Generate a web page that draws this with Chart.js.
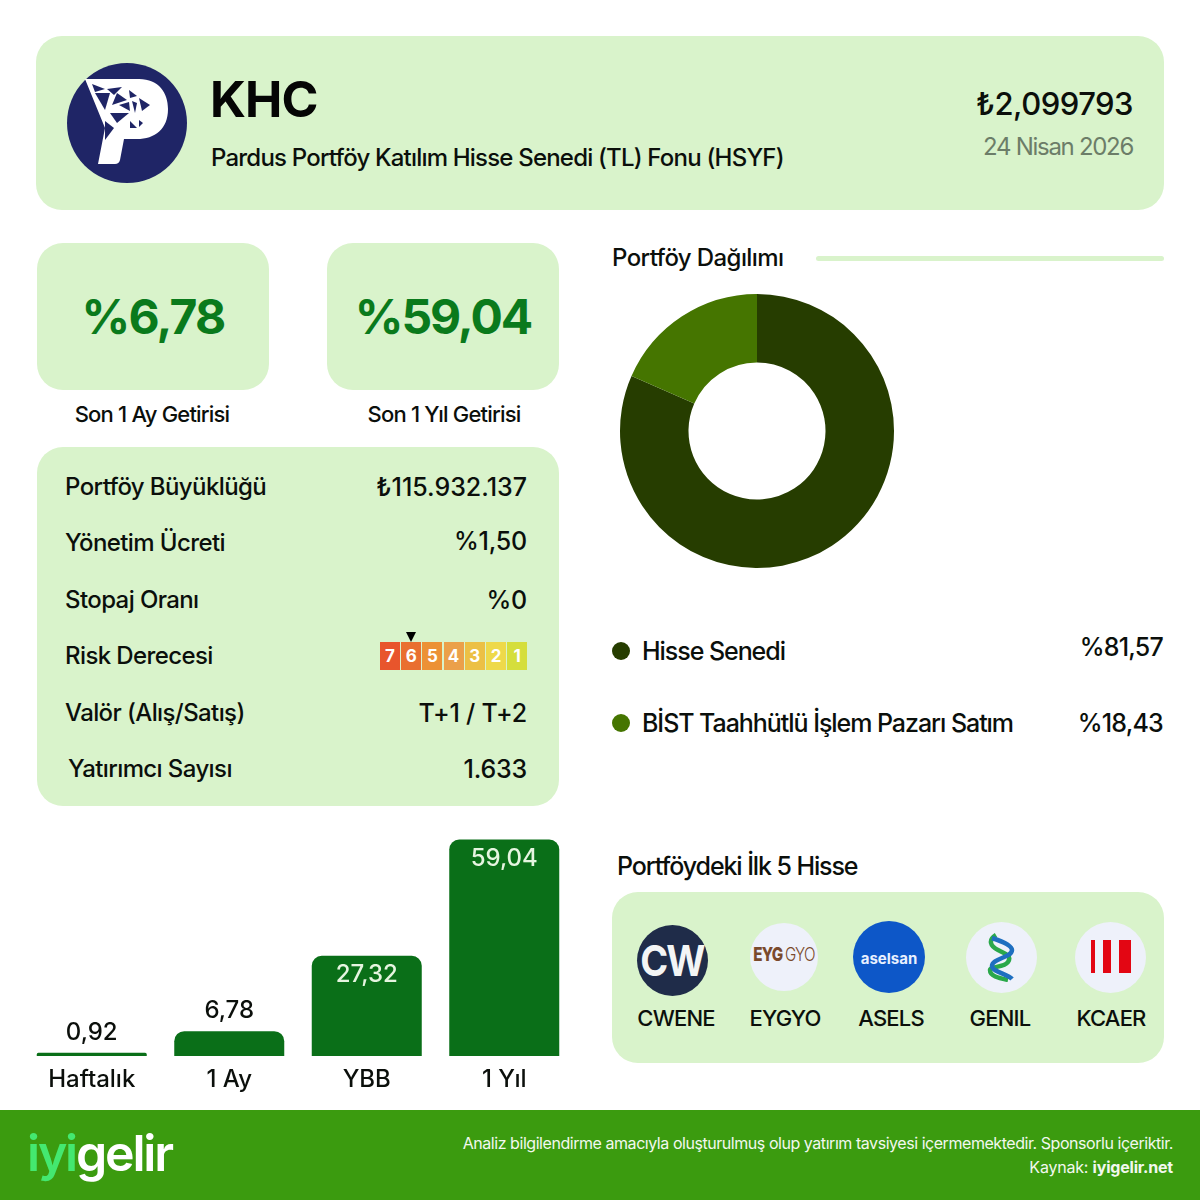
<!DOCTYPE html>
<html lang="tr">
<head>
<meta charset="utf-8">
<title>KHC</title>
<script src="https://cdn.jsdelivr.net/npm/chart.js@4"></script>
<style>
    html, body { margin: 0; padding: 0; background: #fff; }
    body { width: 1200px; height: 1200px; position: relative; overflow: hidden; font-family: Inter, sans-serif; color: #0b0f0b; }
    .panel { position: absolute; background: #d9f3cb; border-radius: 26px; }
    .t { position: absolute; white-space: nowrap; transform: translateY(-50%); line-height: 1; letter-spacing: -0.6px; }
    .r { transform: translate(-100%, -50%); }
    .c { transform: translate(-50%, -50%); }
    canvas { position: absolute; }
    .logo { position: absolute; border-radius: 50%; background: #eef1fa; overflow: hidden; }
    .box { position: absolute; top: 642px; width: 20px; height: 28px; color: #fff; font-size: 17px; font-weight: 700; text-align: center; line-height: 28px; }
</style>
</head>
<body>

<div class="panel" style="left:36px;top:36px;width:1128px;height:174px"></div>
<svg style="position:absolute;left:67px;top:63px" width="120" height="120" viewBox="0 0 120 120">
    <circle cx="60" cy="60" r="60" fill="#1f2566"/>
    <path d="M18 16 H72 C92 16 101 30 101 46 C101 66 88 76 70 76 H57 L53 97 Q52 101 48 101 H31 L38 65 Z" fill="#fff"/>
    <g fill="#1f2566">
        <polygon points="25,21 38,26 28,29"/><polygon points="28,30 43,30 38,47"/>
        <polygon points="40,26 55,24 47,32"/><polygon points="50,30 60,37 45,42"/>
        <polygon points="62,27 70,33 63,35"/><polygon points="52,42 62,39 63,48"/>
        <polygon points="43,50 62,50 50,60"/><polygon points="72,35 83,42 75,48"/>
        <polygon points="38,58 47,65 38,77"/><polygon points="65,38 70,40 68,50"/>
        <polygon points="63,58 70,65 63,65"/><polygon points="72,57 76,60 72,64"/>
    </g>
</svg>
<div class="t" style="left:210px;top:99px;font-size:50px;font-weight:700;color:#050505;letter-spacing:-0.9px">KHC</div>
<div class="t" style="left:211px;top:158px;font-size:24px;font-weight:500;letter-spacing:-0.8px">Pardus Portföy Katılım Hisse Senedi (TL) Fonu (HSYF)</div>
<div class="t r" style="left:1133px;top:103px;font-size:31px;font-weight:500;letter-spacing:-0.5px">₺2,099793</div>
<div class="t r" style="left:1133px;top:147px;font-size:24px;color:#6c7d68;letter-spacing:-1.3px">24 Nisan 2026</div>

<div class="panel" style="left:37px;top:243px;width:232px;height:147px"></div>
<div class="panel" style="left:327px;top:243px;width:232px;height:147px"></div>
<div class="t c" style="left:153px;top:317px;font-size:48px;font-weight:700;color:#0a7a1c;letter-spacing:-1.8px">%6,78</div>
<div class="t c" style="left:443px;top:317px;font-size:48px;font-weight:700;color:#0a7a1c;letter-spacing:-2px">%59,04</div>
<div class="t c" style="left:152px;top:414px;font-size:22px;font-weight:500;letter-spacing:-0.8px">Son 1 Ay Getirisi</div>
<div class="t c" style="left:444px;top:414px;font-size:22px;font-weight:500;letter-spacing:-0.8px">Son 1 Yıl Getirisi</div>

<div class="panel" style="left:37px;top:447px;width:522px;height:359px"></div>
<div id="rows"></div>
<div id="risk"></div>

<div class="t" style="left:612px;top:258px;font-size:24px;font-weight:500">Portföy Dağılımı</div>
<div style="position:absolute;left:816px;top:256px;width:348px;height:5px;border-radius:3px;background:#d9f3cb"></div>
<canvas id="pieChart" style="left:607px;top:281px;width:300px;height:300px"></canvas>
<div id="pieLegend"></div>

<canvas id="barChart" style="left:23px;top:830px;width:550px;height:270px"></canvas>

<div class="t" style="left:617px;top:866px;font-size:25px;font-weight:500;letter-spacing:-1.1px">Portföydeki İlk 5 Hisse</div>
<div class="panel" style="left:612px;top:892px;width:552px;height:171px"></div>
<div id="names"></div>

<div class="logo" style="left:637px;top:925px;width:71px;height:71px;background:#1f2c49"></div>
<div class="t" style="left:672px;top:960px;font-size:43px;font-weight:700;color:#f3f5f5;letter-spacing:-2px;transform:translate(-50%,-50%) scaleX(.88)">CW</div>
<div class="logo" style="left:750px;top:923px;width:68px;height:68px"></div>
<div class="t" style="left:784px;top:954px;font-size:19px;font-weight:800;color:#7a4a2c;letter-spacing:-1px;transform:translate(-50%,-50%) scaleX(.8)">EYG <span style="font-weight:300">GYO</span></div>
<div class="logo" style="left:853px;top:921px;width:72px;height:72px;background:#0d57c8"></div>
<div class="t c" style="left:889px;top:958px;font-size:15px;font-weight:700;color:#e8f0ff;letter-spacing:0">aselsan</div>
<div class="logo" style="left:966px;top:922px;width:71px;height:71px"></div>
<svg style="position:absolute;left:984px;top:932px" width="36" height="50" viewBox="0 0 36 50" fill="none" stroke-width="4.5">
    <path d="M12 3 C4 8 6 14 14 18 C22 22 28 24 24 30 C20 36 6 34 6 38 C6 44 14 46 24 48" stroke="#2aa84a"/>
    <path d="M8 6 C20 10 28 14 28 18 C28 26 8 26 8 34 C8 40 24 42 28 47" stroke="#1e6fc0"/>
</svg>
<div class="logo" style="left:1075px;top:922px;width:71px;height:71px"></div>
<div style="position:absolute;left:1091px;top:940px;width:4px;height:33px;background:#e30613"></div>
<div style="position:absolute;left:1103px;top:940px;width:8px;height:33px;background:#e30613"></div>
<div style="position:absolute;left:1119px;top:940px;width:12px;height:33px;background:#e30613"></div>

<div style="position:absolute;left:0;top:1110px;width:1200px;height:90px;background:#3b9b0f"></div>
<div class="t" style="left:27px;top:1153px;font-size:50px;font-weight:600;color:#fff;letter-spacing:-2.2px"><span style="color:#44e870">iyi</span>gelir</div>
<div class="t r" style="left:1173px;top:1143px;font-size:16px;color:#f2f8ee;letter-spacing:-0.45px">Analiz bilgilendirme amacıyla oluşturulmuş olup yatırım tavsiyesi içermemektedir. Sponsorlu içeriktir.</div>
<div class="t r" style="left:1173px;top:1167px;font-size:16px;color:#f2f8ee;letter-spacing:-0.2px">Kaynak: <b>iyigelir.net</b></div>

<script>
// Fund facts
const rowLabels = ["Portföy Büyüklüğü", "Yönetim Ücreti", "Stopaj Oranı", "Risk Derecesi", "Valör (Alış/Satış)", "Yatırımcı Sayısı"];
const rowValues = ["₺115.932.137", "%1,50", "%0", "", "T+1 / T+2", "1.633"];

// Risk scale
const riskLevels = [7, 6, 5, 4, 3, 2, 1];
const riskColors = ["#e8552c", "#e96f30", "#ec9135", "#eba04a", "#ecc045", "#eed94a", "#d5de3c"];
const riskCurrent = 6;

// Portfolio split
const sliceLabels = ["Hisse Senedi", "BİST Taahhütlü İşlem Pazarı Satım"];
const sliceValues = [81.57, 18.43];
const sliceColors = ["#263d00", "#457500"];

// Returns
const barLabels = ["Haftalık", "1 Ay", "YBB", "1 Yıl"];
const barValues = [0.92, 6.78, 27.32, 59.04];

// Top holdings
const holdings = ["CWENE", "EYGYO", "ASELS", "GENIL", "KCAER"];

function addText(parent, text, left, top, size, cls, spacing) {
    let el = document.createElement("div");
    el.className = "t " + (cls || "");
    el.style.left = left + "px";
    el.style.top = top + "px";
    el.style.fontSize = size + "px";
    el.style.fontWeight = 500;
    if (spacing !== undefined) el.style.letterSpacing = spacing + "px";
    el.textContent = text;
    parent.appendChild(el);
}

function trNumber(v, digits) {
    return v.toFixed(digits).replace(".", ",");
}

// Table rows
let rows = document.getElementById("rows");
const rowTops = [487, 543, 600, 656, 713, 769];
rowLabels.forEach((label, i) => {
    addText(rows, label, i === 5 ? 68 : 65, rowTops[i], 24);
    if (rowValues[i]) addText(rows, rowValues[i], 527, rowTops[i] - (i === 1 ? 2 : 0), 25, "r", i === 0 ? 0 : -0.2);
});

// Risk boxes
let risk = document.getElementById("risk");
riskLevels.forEach((level, i) => {
    let box = document.createElement("div");
    box.className = "box";
    box.style.left = (380 + i * 21.2) + "px";
    box.style.background = riskColors[i];
    box.textContent = level;
    risk.appendChild(box);
    if (level === riskCurrent) {
        let arrow = document.createElement("div");
        arrow.style.cssText = "position:absolute;top:632px;width:0;height:0;border-left:5px solid transparent;border-right:5px solid transparent;border-top:10px solid #000";
        arrow.style.left = (380 + i * 21.2 + 5) + "px";
        risk.appendChild(arrow);
    }
});

// Portfolio legend
let pieLegend = document.getElementById("pieLegend");
const legendTops = [651, 723];
sliceLabels.forEach((label, i) => {
    let dot = document.createElement("div");
    dot.style.cssText = "position:absolute;left:612px;width:18px;height:18px;border-radius:50%";
    dot.style.top = (legendTops[i] - 9) + "px";
    dot.style.background = sliceColors[i];
    pieLegend.appendChild(dot);
    addText(pieLegend, label, 642, legendTops[i], 25, "", -1.05);
    addText(pieLegend, "%" + trNumber(sliceValues[i], 2), 1163, legendTops[i] - 4 * (1 - i), 25, "r", -0.8);
});

// Holding names
let names = document.getElementById("names");
const nameCenters = [676, 785, 891, 1000, 1111];
holdings.forEach((name, i) => addText(names, name, nameCenters[i], 1018, 22, "c", -0.8));

new Chart(document.getElementById("pieChart"), {
    type: "doughnut",
    data: {
        labels: sliceLabels,
        datasets: [{ data: sliceValues, backgroundColor: sliceColors, borderWidth: 0 }]
    },
    options: {
        responsive: false,
        animation: false,
        cutout: "50%",
        layout: { padding: 13 },
        plugins: { legend: { display: false }, tooltip: { enabled: false } }
    }
});

// Writes each value above the short bars and inside the tall ones
const valueLabels = {
    id: "valueLabels",
    afterDatasetsDraw(chart) {
        let ctx = chart.ctx;
        chart.getDatasetMeta(0).data.forEach((bar, i) => {
            let inside = barValues[i] > 20;
            ctx.save();
            ctx.font = "500 24px Inter";
            ctx.textAlign = "center";
            ctx.textBaseline = "middle";
            ctx.fillStyle = inside ? "#e6f5e0" : "#0b0f0b";
            ctx.fillText(trNumber(barValues[i], 2), bar.x, inside ? bar.y + 19 : bar.y - 20);
            ctx.restore();
        });
    }
};

new Chart(document.getElementById("barChart"), {
    type: "bar",
    data: {
        labels: barLabels,
        datasets: [{
            data: barValues,
            backgroundColor: "#0a6f18",
            borderRadius: { topLeft: 10, topRight: 10, bottomLeft: 0, bottomRight: 0 },
            borderSkipped: false,
            categoryPercentage: 1,
            barPercentage: 0.8
        }]
    },
    options: {
        responsive: false,
        animation: false,
        layout: { padding: { top: 6 } },
        scales: {
            x: {
                grid: { display: false },
                border: { display: false },
                afterFit(axis) { axis.height = 44; },
                ticks: { color: "#0b0f0b", font: { family: "Inter", size: 24, weight: "500" }, padding: 1, maxRotation: 0 }
            },
            y: { display: false, min: 0, max: 60 }
        },
        plugins: { legend: { display: false }, tooltip: { enabled: false } }
    },
    plugins: [valueLabels]
});
</script>
</body>
</html>
